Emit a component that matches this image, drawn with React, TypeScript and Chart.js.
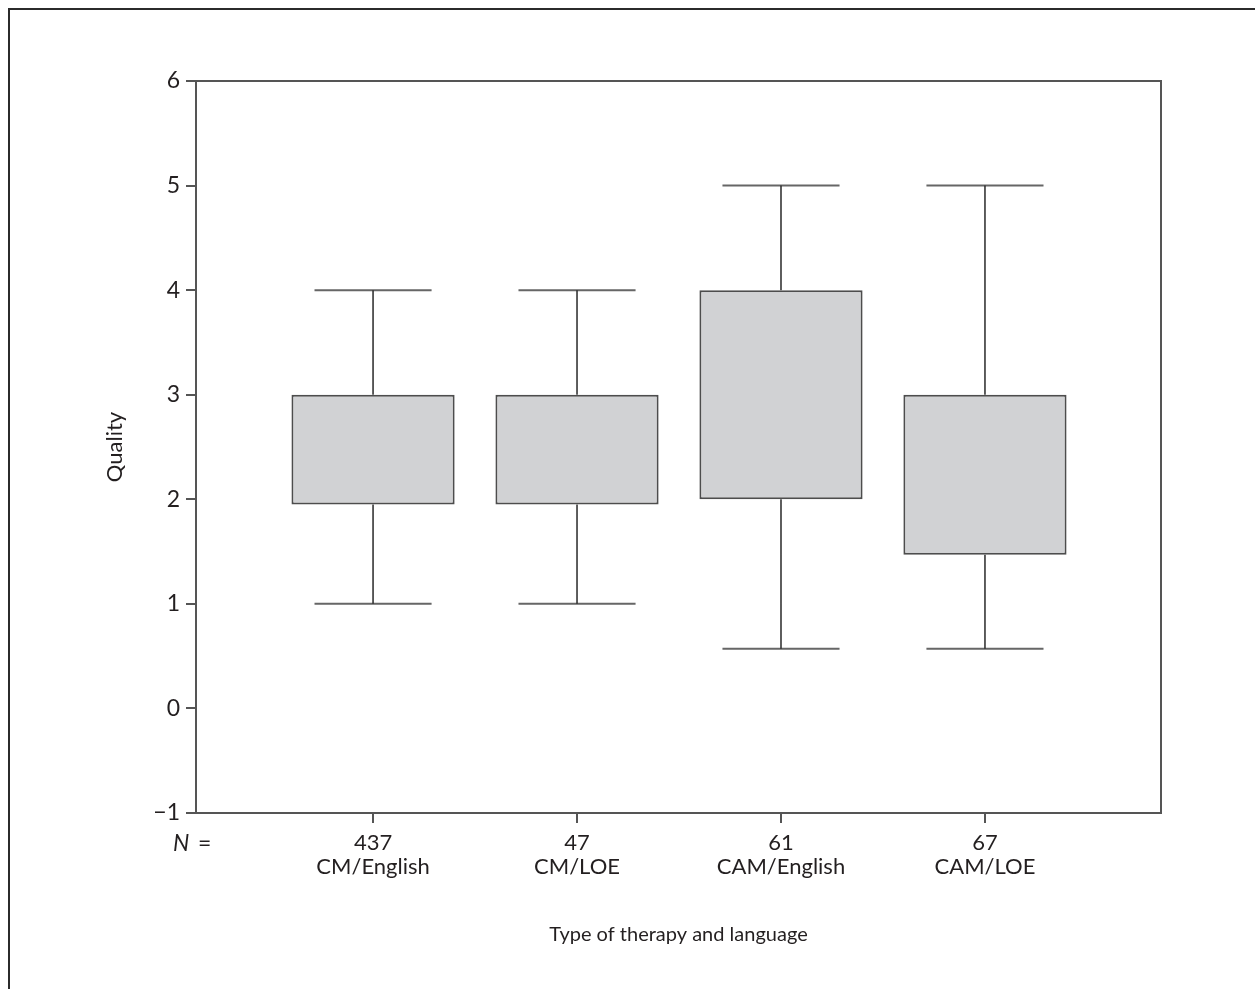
import React, { useEffect, useRef } from "react";
import { Chart, registerables } from "chart.js";

Chart.register(...registerables);

// Groups (therapy type / language) and their sample sizes
const categories = ["CM/English", "CM/LOE", "CAM/English", "CAM/LOE"];
const counts = [437, 47, 61, 67];

// Box-plot summary per group (quality score)
const whiskerLow = [1, 1, 0.57, 0.57];
const quartileLow = [1.95, 1.95, 2.0, 1.47];
const quartileHigh = [3, 3, 4, 3];
const whiskerHigh = [4, 4, 5, 5];

// Y-axis tick values
const yTicks = [-1, 0, 1, 2, 3, 4, 5, 6];

const positions = categories.map((_, i) => i + 1);
const CAP_HALF = 0.287;
const FONT = "Lato, 'Open Sans', sans-serif";
const INK = "#231f20";
const AXIS = "#555555";

function buildStems() {
  const pts: { x: number; y: number | null }[] = [];
  positions.forEach((x, i) => {
    pts.push({ x, y: quartileHigh[i] }, { x, y: whiskerHigh[i] }, { x, y: null });
    pts.push({ x, y: quartileLow[i] }, { x, y: whiskerLow[i] }, { x, y: null });
  });
  return pts;
}

function buildCaps() {
  const pts: { x: number; y: number | null }[] = [];
  positions.forEach((x, i) => {
    pts.push({ x: x - CAP_HALF, y: whiskerHigh[i] }, { x: x + CAP_HALF, y: whiskerHigh[i] }, { x, y: null });
    pts.push({ x: x - CAP_HALF, y: whiskerLow[i] }, { x: x + CAP_HALF, y: whiskerLow[i] }, { x, y: null });
  });
  return pts;
}

const framePlugin = {
  id: "plotFrame",
  beforeDraw(chart: any) {
    // page frame along the left and top edges
    const { ctx, width, height } = chart;
    ctx.save();
    ctx.strokeStyle = "#2b2b2b";
    ctx.lineWidth = 2;
    ctx.beginPath();
    ctx.moveTo(9, height);
    ctx.lineTo(9, 9);
    ctx.lineTo(width, 9);
    ctx.stroke();
    ctx.restore();
  },
  afterDraw(chart: any) {
    const { ctx, chartArea } = chart;
    ctx.save();
    ctx.strokeStyle = AXIS;
    ctx.lineWidth = 2;
    ctx.strokeRect(chartArea.left, chartArea.top, chartArea.right - chartArea.left, chartArea.bottom - chartArea.top);
    // "N =" row label beside the sample sizes
    const x = chart.scales.x;
    const baseY = x.top + 38;
    ctx.fillStyle = INK;
    ctx.textBaseline = "alphabetic";
    ctx.textAlign = "left";
    ctx.font = `italic 23px ${FONT}`;
    ctx.fillText("N", 173, baseY);
    ctx.font = `23px ${FONT}`;
    ctx.fillText("=", 198, baseY);
    ctx.restore();
  },
};

export default function App() {
  const canvasRef = useRef<HTMLCanvasElement | null>(null);

  useEffect(() => {
    const canvas = canvasRef.current;
    if (!canvas) return;
    const chart = new Chart(canvas, {
      type: "bar",
      data: {
        datasets: [
          {
            type: "bar",
            data: positions.map((x, i) => ({ x, y: [quartileLow[i], quartileHigh[i]] })) as any,
            backgroundColor: "#d1d2d4",
            borderColor: "#4d4d4d",
            borderWidth: 2,
            borderSkipped: false,
            barPercentage: 0.8,
            categoryPercentage: 1,
          },
          {
            type: "line",
            data: buildStems() as any,
            borderColor: "#2a2a2a",
            borderWidth: 1.5,
            pointRadius: 0,
            spanGaps: false,
          },
          {
            type: "line",
            data: buildCaps() as any,
            borderColor: "#666666",
            borderWidth: 2,
            pointRadius: 0,
            spanGaps: false,
          },
        ],
      },
      options: {
        animation: false,
        responsive: false,
        layout: { padding: { top: 81, right: 94, left: 0, bottom: 0 } },
        plugins: { legend: { display: false }, tooltip: { enabled: false } },
        scales: {
          x: {
            type: "linear",
            min: 0.132,
            max: 4.863,
            offset: false,
            afterBuildTicks: (scale: any) => {
              scale.ticks = positions.map((v) => ({ value: v }));
            },
            afterFit: (scale: any) => {
              scale.height = 176;
            },
            grid: { drawOnChartArea: false, drawTicks: true, tickLength: 10, color: AXIS, lineWidth: 2, offset: false },
            border: { display: true, color: AXIS, width: 2 },
            ticks: {
              autoSkip: false,
              maxRotation: 0,
              padding: 8,
              color: INK,
              font: { family: FONT, size: 22, lineHeight: 1.1 },
              callback: (v: any) => {
                const i = positions.indexOf(Number(v));
                return i < 0 ? "" : [String(counts[i]), categories[i]];
              },
            },
            title: {
              display: true,
              text: "Type of therapy and language",
              color: INK,
              font: { family: FONT, size: 20 },
              padding: { top: 0, bottom: 42 },
            },
          },
          y: {
            type: "linear",
            min: yTicks[0],
            max: yTicks[yTicks.length - 1],
            afterBuildTicks: (scale: any) => {
              scale.ticks = yTicks.map((v) => ({ value: v }));
            },
            afterFit: (scale: any) => {
              scale.width = 196;
            },
            grid: { drawOnChartArea: false, drawTicks: true, tickLength: 10, color: AXIS, lineWidth: 2 },
            border: { display: true, color: AXIS, width: 2 },
            ticks: {
              padding: 6,
              color: INK,
              font: { family: FONT, size: 23 },
              callback: (v: any) => (Number(v) < 0 ? "\u2212" + Math.abs(Number(v)) : String(v)),
            },
            title: {
              display: true,
              text: "Quality",
              color: INK,
              font: { family: FONT, size: 22 },
              padding: { top: 102, bottom: 0 },
            },
          },
        },
      },
      plugins: [framePlugin],
    });
    return () => chart.destroy();
  }, []);

  return (
    <div>
      <canvas
        ref={canvasRef}
        width={1255}
        height={989}
        style={{ position: "fixed", left: 0, top: 0, width: 1255, height: 989, display: "block" }}
      />
    </div>
  );
}
